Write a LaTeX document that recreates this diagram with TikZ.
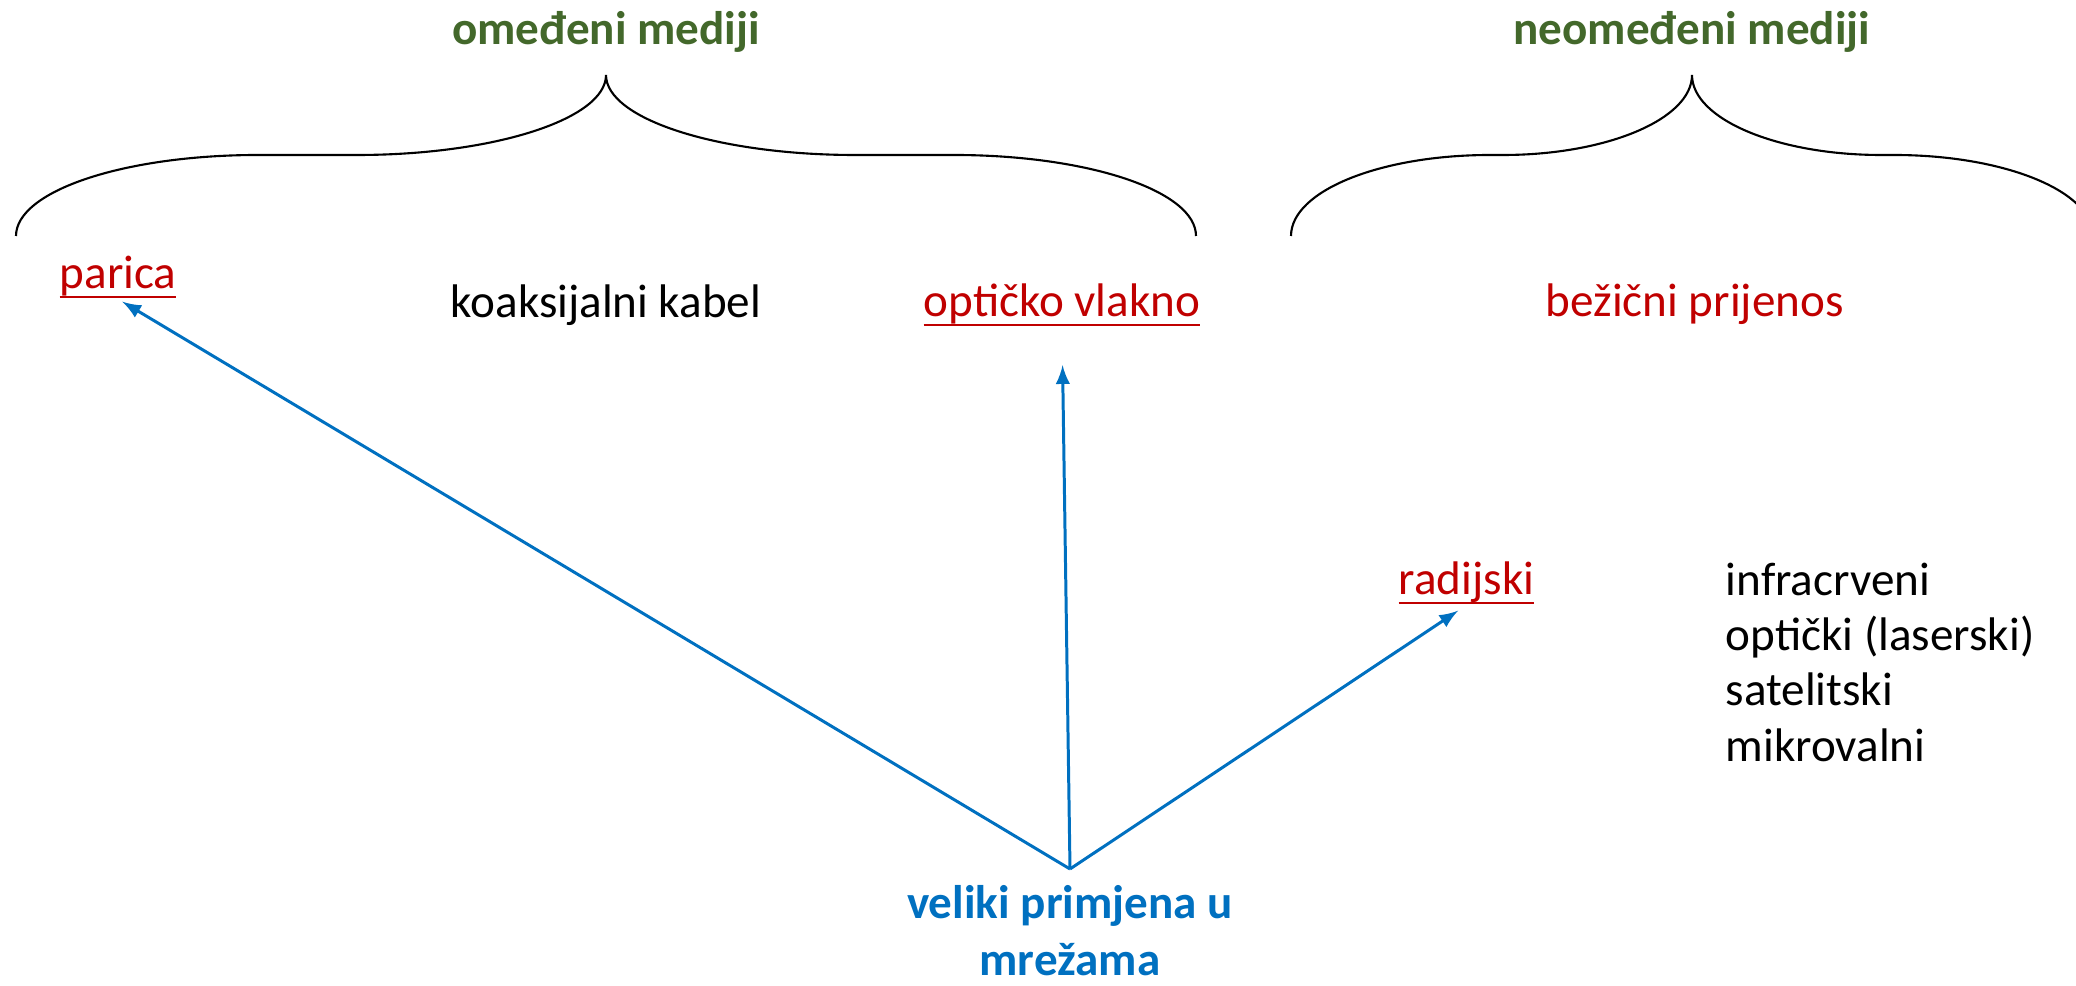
\documentclass[tikz,border=0pt]{standalone}
\usepackage{fontspec}
\setmainfont{Carlito}
\definecolor{linkred}{RGB}{192,0,0}
\definecolor{mediagreen}{RGB}{67,104,43}
\definecolor{netblue}{RGB}{0,112,192}
\newcommand{\ulink}[1]{\setbox0\hbox{#1}\rlap{\rule[-0.2em]{\wd0}{0.8pt}}\box0}

\begin{document}
\begin{tikzpicture}[x=0.01cm, y=-0.01cm,
	txt/.style={font=\fontsize{13.4}{15.7}\selectfont, inner sep=0pt},
	grouptitle/.style={txt, font=\fontsize{13.4}{15.7}\selectfont\bfseries, text=mediagreen},
	mediumtxt/.style={txt, text=linkred},
	bracepath/.style={line width=0.6pt},
	netarrow/.style={->, >=latex, netblue, line width=0.85pt}]
	\clip (0, 0) rectangle (2076, 986);
	%%
	\node[grouptitle, anchor=base] (omedeni) at (606, 45) {omeđeni mediji};
	\node[grouptitle, anchor=base] (neomedeni) at (1692, 45) {neomeđeni mediji};
	%%
	\draw[bracepath] (16, 236) .. controls (16, 191) and (124, 155) .. (258, 155) -- (357, 155) .. controls (494, 155) and (606, 119) .. (606, 75) .. controls (606, 119) and (718, 155) .. (855, 155) -- (954, 155) .. controls (1088, 155) and (1196, 191) .. (1196, 236);
	\draw[bracepath] (1291, 236) .. controls (1291, 191) and (1380, 155) .. (1490, 155) -- (1503, 155) .. controls (1607, 155) and (1692, 119) .. (1692, 75) .. controls (1692, 119) and (1777, 155) .. (1881, 155) -- (1894, 155) .. controls (2004, 155) and (2093, 191) .. (2093, 236);
	%%
	\node[mediumtxt, anchor=base west] (parica) at (59, 289) {\ulink{parica}};
	\node[txt, anchor=base west] (koaks) at (450, 318) {koaksijalni kabel};
	\node[mediumtxt, anchor=base west] (vlakno) at (923, 317) {\ulink{optičko vlakno}};
	\node[mediumtxt, anchor=base west] (bezicni) at (1545, 317) {bežični prijenos};
	%%
	\node[mediumtxt, anchor=base west] (radijski) at (1398, 595) {\ulink{radijski}};
	\foreach \kind [count=\i] in {infracrveni, optički (laserski), satelitski, mikrovalni}
		\node[txt, anchor=base west] (kind\i) at (1725, 540+55.3*\i) {\kind};
	%%
	\node[txt, font=\fontsize{13.4}{16.1}\selectfont\bfseries, text=netblue, align=center, anchor=north] (mreze) at (1070, 885) {veliki primjena u\\mrežama};
	\coordinate (hub) at (1070, 869);
	\draw[netarrow, shorten >=0.5mm] (hub) -- (parica.south);
	\draw[netarrow, shorten >=3.8mm] (hub) -- (vlakno.south);
	\draw[netarrow, shorten >=1mm] (hub) -- (radijski.south);
\end{tikzpicture}
\end{document}
